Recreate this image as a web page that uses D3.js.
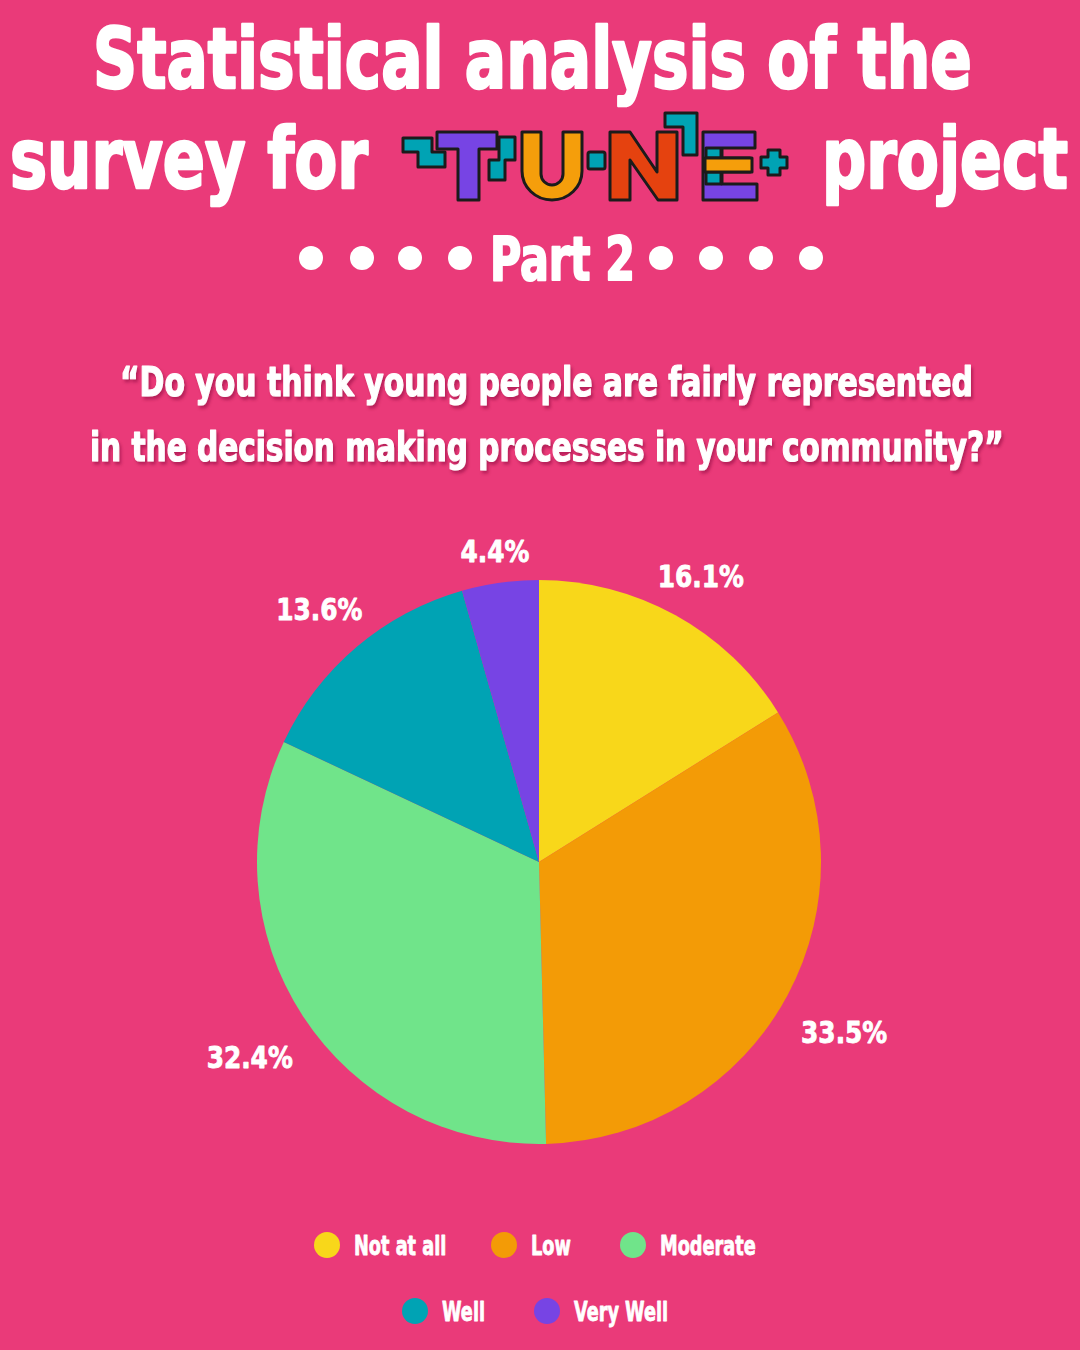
<!DOCTYPE html>
<html><head><meta charset="utf-8">
<script src="https://cdn.jsdelivr.net/npm/d3@7"></script>
<style>
html,body{margin:0;padding:0;background:#EA3A79;}
svg{display:block;}
text{font-family:"DejaVu Sans Condensed","DejaVu Sans",sans-serif;font-weight:bold;fill:#fff;stroke:#fff;stroke-linejoin:round;}
</style></head>
<body>
<script>
// ---- data ----
const categories = ["Not at all", "Low", "Moderate", "Well", "Very Well"];
const values = [16.1, 33.5, 32.4, 13.6, 4.4];
const colors = ["#F8D71A", "#F39B06", "#70E48A", "#00A3B4", "#7744E4"];
const titleLine1 = "Statistical analysis of the";
const titleLine2a = "survey for";
const titleLine2b = "project";
const partLabel = "Part 2";
const questionLines = ["\u201cDo you think young people are fairly represented", "in the decision making processes in your community?\u201d"];

const W = 1080, H = 1350;
const svg = d3.select("body").append("svg").attr("width", W).attr("height", H);
svg.append("rect").attr("width", W).attr("height", H).attr("fill", "#EA3A79");

const defs = svg.append("defs");
const f = defs.append("filter").attr("id", "sh").attr("x", "-5%").attr("y", "-20%").attr("width", "110%").attr("height", "150%");
f.append("feDropShadow").attr("dx", 2).attr("dy", 3).attr("stdDeviation", 1.5).attr("flood-color", "#7a1035").attr("flood-opacity", 0.45);

// place text starting at x with its width scaled to the target width
function fitText(g, str, x, y, size, width, sw) {
  const t = g.append("text").attr("font-size", size).attr("stroke-width", sw || 0).text(str);
  const n = t.node().getComputedTextLength();
  t.attr("transform", `translate(${x},${y}) scale(${width / n},1)`);
  return t;
}

// ---- title ----
const tg = svg.append("g");
fitText(tg, titleLine1, 93, 88, 84, 879, 2.5);
fitText(tg, titleLine2a, 10, 188, 84, 358, 2.5);
fitText(tg, titleLine2b, 822, 188, 84, 246, 2.5);

// ---- logo ----
const lg = svg.append("g").attr("stroke", "#1b1b1b").attr("stroke-width", 3).attr("stroke-linejoin", "round");
const teal = "#00A3B4", purple = "#7744E4", orange = "#F59E0B", red = "#E5420F";
lg.append("path").attr("fill", teal).attr("d", "M403,138 H432 V152 H445 V167 H418 V152 H403 Z");
lg.append("path").attr("fill", purple).attr("d", "M437,132 H497 V149 H479 V200 H458 V149 H437 Z");
lg.append("path").attr("fill", teal).attr("d", "M499,137 H515 V160 H505 V180 H489 V160 H499 Z");
lg.append("path").attr("fill", orange).attr("d", "M522,132 H541 V174 A11 11 0 0 0 563 174 V132 H582 V171 A30 29 0 0 1 522 171 Z");
lg.append("rect").attr("fill", teal).attr("x", 588).attr("y", 152).attr("width", 17).attr("height", 17).attr("rx", 2);
lg.append("path").attr("fill", red).attr("d", "M610,200 V132 H630 L657,172 V132 H677 V200 H658 L630,160 V200 Z");
lg.append("path").attr("fill", teal).attr("d", "M665,113 H697 V155 H683 V127 H665 Z");
lg.append("path").attr("fill", purple).attr("d", "M703,132 H755 V148 H722 V158 H750 V172 H722 V184 H757 V200 H703 Z");
lg.append("rect").attr("fill", teal).attr("x", 706).attr("y", 148).attr("width", 15).attr("height", 10);
lg.append("rect").attr("fill", teal).attr("x", 706).attr("y", 172).attr("width", 15).attr("height", 12);
lg.append("rect").attr("fill", orange).attr("x", 705).attr("y", 158).attr("width", 47).attr("height", 14);
lg.append("path").attr("fill", teal).attr("d", "M768,150 H780 V157 H787 V168 H780 V175 H768 V168 H761 V157 H768 Z");

// ---- part 2 ----
const dotsLeft = [311, 362, 410, 460], dotsRight = [661, 711, 761, 811];
svg.append("g").selectAll("circle").data(dotsLeft.concat(dotsRight)).join("circle")
  .attr("cx", d => d).attr("cy", 258).attr("r", 12).attr("fill", "#fff");
fitText(svg, partLabel, 490, 280, 60, 145, 2);

// ---- question ----
const qg = svg.append("g").attr("filter", "url(#sh)");
fitText(qg, questionLines[0], 120, 396, 40, 853, 1.2);
fitText(qg, questionLines[1], 90, 461, 40, 914, 1.2);

// ---- pie ----
const cx = 539, cy = 862, R = 282;
const pie = d3.pie().sort(null).value(d => d)(values);
const arc = d3.arc().innerRadius(0).outerRadius(R);
const color = d3.scaleOrdinal().domain(categories).range(colors);
const pg = svg.append("g").attr("transform", `translate(${cx},${cy})`);
pg.selectAll("path").data(pie).join("path")
  .attr("d", arc).attr("fill", (d, i) => color(categories[i]));

const labR = 302, hw = 44, hh = 12;
pg.selectAll("text.lab").data(pie).join("text").attr("class", "lab")
  .each(function (d) {
    const a = (d.startAngle + d.endAngle) / 2;
    const s = Math.sin(a), c = -Math.cos(a);
    const r = labR + Math.abs(s) * hw + Math.abs(c) * hh;
    d3.select(this).attr("transform", `translate(${r * s},${r * c + 17}) scale(0.92,1)`);
  })
  .attr("text-anchor", "middle").attr("font-size", 30).attr("stroke-width", 0.8)
  .text(d => d.value.toFixed(1) + "%");

// ---- legend ----
const legRows = [[0, 1, 2], [3, 4]];
const legX = [[327, 504, 633], [415, 547]];
const legY = [1245, 1311];
const leg = svg.append("g");
legRows.forEach((row, ri) => {
  row.forEach((ci, k) => {
    const x = legX[ri][k], y = legY[ri];
    leg.append("circle").attr("cx", x).attr("cy", y).attr("r", 13).attr("fill", color(categories[ci]));
    leg.append("text").attr("transform", `translate(${x + 27},${y + 10}) scale(0.73,1)`)
      .attr("font-size", 27).attr("stroke-width", 0.8).text(categories[ci]);
  });
});
</script>
</body></html>
